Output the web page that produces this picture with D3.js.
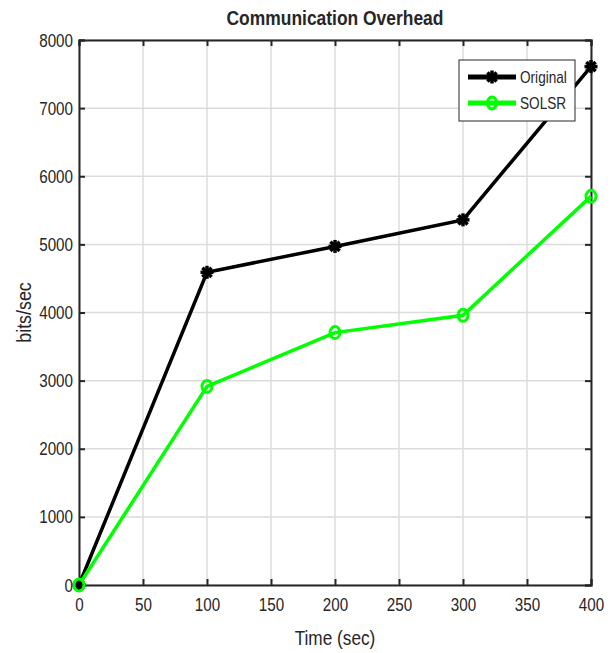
<!DOCTYPE html>
<html>
<head>
<meta charset="utf-8">
<script src="https://cdn.jsdelivr.net/npm/d3@7"></script>
<style>
  body { margin: 0; background: #fff; }
  svg text { font-family: "Liberation Sans", Arial, Helvetica, sans-serif; fill: #262626; }
</style>
</head>
<body>
<svg id="chart" width="614" height="653"></svg>
<script>
// Time points (sec)
const times = [0, 100, 200, 300, 400];
// Overhead in bits/sec
const originalValues = [0, 4590, 4970, 5360, 7610];
const solsrValues = [0, 2915, 3705, 3960, 5705];
const seriesNames = ["Original", "SOLSR"];
const xTicks = [0, 50, 100, 150, 200, 250, 300, 350, 400];
const yTicks = [0, 1000, 2000, 3000, 4000, 5000, 6000, 7000, 8000];

const svg = d3.select("#chart");
const margin = { left: 79, right: 23, top: 40, bottom: 68 };
const W = 614, H = 653;
const x = d3.scaleLinear().domain([0, 400]).range([margin.left, W - margin.right]);
const y = d3.scaleLinear().domain([0, 8000]).range([H - margin.bottom, margin.top]);

// Narrow the glyphs horizontally to give a condensed sans look
function condense(sel, ratio) {
  sel.each(function () {
    const len = this.getComputedTextLength();
    if (len > 0) {
      d3.select(this).attr("textLength", len * ratio).attr("lengthAdjust", "spacingAndGlyphs");
    }
  });
}

const g = svg.append("g");

// grid
g.selectAll(".gx").data(xTicks).join("line")
  .attr("x1", d => x(d)).attr("x2", d => x(d))
  .attr("y1", y(0)).attr("y2", y(8000))
  .attr("stroke", "#dcdcdc").attr("stroke-width", 1.5);
g.selectAll(".gy").data(yTicks).join("line")
  .attr("y1", d => y(d)).attr("y2", d => y(d))
  .attr("x1", x(0)).attr("x2", x(400))
  .attr("stroke", "#dcdcdc").attr("stroke-width", 1.5);

// axes (ticks inward)
const tickLen = 6;
const fontSize = 19;
const xAxis = d3.axisBottom(x).tickValues(xTicks).tickSize(-tickLen).tickPadding(13).tickFormat(d3.format("d"));
const yAxis = d3.axisLeft(y).tickValues(yTicks).tickSize(-tickLen).tickPadding(6).tickFormat(d3.format("d"));
const xTop = d3.axisTop(x).tickValues(xTicks).tickSize(-tickLen).tickFormat("");
const yRight = d3.axisRight(y).tickValues(yTicks).tickSize(-tickLen).tickFormat("");

function styleAxis(sel) {
  sel.selectAll("path").attr("stroke", "#262626").attr("stroke-width", 2);
  sel.selectAll("line").attr("stroke", "#262626").attr("stroke-width", 2);
  sel.selectAll("text").attr("font-size", fontSize).attr("font-family", null).attr("fill", "#262626");
}
g.append("g").attr("transform", `translate(0,${y(0)})`).call(xAxis).call(styleAxis)
  .selectAll("text").call(condense, 0.8);
g.append("g").attr("transform", `translate(${x(0)},0)`).call(yAxis).call(styleAxis)
  .selectAll("text").call(condense, 0.8);
g.append("g").attr("transform", `translate(0,${y(8000)})`).call(xTop).call(styleAxis);
g.append("g").attr("transform", `translate(${x(400)},0)`).call(yRight).call(styleAxis);

// lines
const orig = times.map((t, i) => ({ t, v: originalValues[i] }));
const sols = times.map((t, i) => ({ t, v: solsrValues[i] }));
const line = d3.line().x(d => x(d.t)).y(d => y(d.v));

g.append("path").datum(orig).attr("d", line).attr("fill", "none").attr("stroke", "#000").attr("stroke-width", 3.5);
g.append("path").datum(sols).attr("d", line).attr("fill", "none").attr("stroke", "#00ff00").attr("stroke-width", 3.5);

function asterisk(sel, cx, cy, r) {
  const a = sel.append("g").attr("transform", `translate(${cx},${cy})`);
  for (let k = 0; k < 4; k++) {
    const ang = k * Math.PI / 4;
    a.append("line")
      .attr("x1", -r * Math.cos(ang)).attr("y1", -r * Math.sin(ang))
      .attr("x2", r * Math.cos(ang)).attr("y2", r * Math.sin(ang))
      .attr("stroke", "#000").attr("stroke-width", 3.5);
  }
}
orig.forEach(d => asterisk(g, x(d.t), y(d.v), 6.5));
g.selectAll(".mk").data(sols).join("ellipse")
  .attr("cx", d => x(d.t)).attr("cy", d => y(d.v))
  .attr("rx", 5).attr("ry", 6)
  .attr("fill", "none").attr("stroke", "#00ff00").attr("stroke-width", 3);

// legend
const lg = g.append("g").attr("transform", "translate(459,60)");
lg.append("rect").attr("width", 116).attr("height", 61).attr("fill", "#fff").attr("stroke", "#262626").attr("stroke-width", 1);
const legendColors = ["#000", "#00ff00"];
seriesNames.forEach((name, i) => {
  const ly = 17 + i * 26;
  lg.append("line").attr("x1", 9).attr("x2", 57).attr("y1", ly).attr("y2", ly)
    .attr("stroke", legendColors[i]).attr("stroke-width", 5);
  if (i === 0) asterisk(lg, 33, ly, 6.5);
  else lg.append("ellipse").attr("cx", 33).attr("cy", ly).attr("rx", 4.5).attr("ry", 6)
    .attr("fill", "none").attr("stroke", "#00ff00").attr("stroke-width", 3);
  lg.append("text").attr("x", 61).attr("y", ly).attr("dy", "0.35em")
    .attr("font-size", 17).attr("fill", "#000").text(name).call(condense, 0.8);
});

// title and axis labels
svg.append("text").attr("x", 335).attr("y", 25).attr("text-anchor", "middle")
  .attr("font-size", 21).attr("font-weight", "bold").attr("fill", "#000")
  .text("Communication Overhead").call(condense, 0.83);
svg.append("text").attr("x", 335).attr("y", 645).attr("text-anchor", "middle")
  .attr("font-size", 21).text("Time (sec)").call(condense, 0.82);
svg.append("text").attr("transform", `translate(31,${(y(0) + y(8000)) / 2}) rotate(-90)`)
  .attr("text-anchor", "middle").attr("font-size", 21).text("bits/sec").call(condense, 0.85);
</script>
</body>
</html>
